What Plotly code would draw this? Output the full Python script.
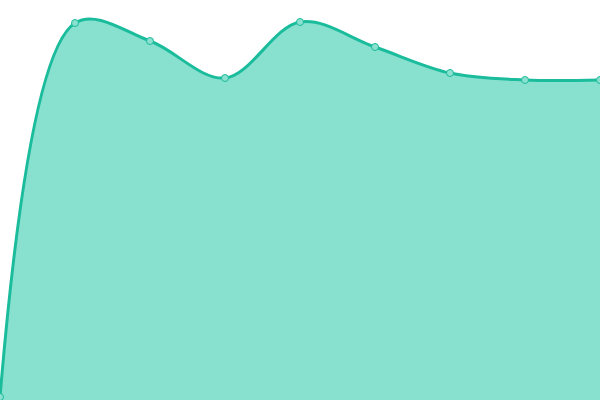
import plotly.graph_objects as go

# x positions and values (no axes shown in reference)
x_vals = [0, 1, 2, 3, 4, 5, 6, 7, 8]
y_vals = [3, 377, 359, 322, 378, 353, 327, 320, 320]

fig = go.Figure()
fig.add_trace(go.Scatter(
    x=x_vals,
    y=y_vals,
    mode="lines+markers",
    line=dict(color="#1abc9c", width=3, shape="spline", smoothing=1),
    marker=dict(size=7, color="#8be0cf", line=dict(color="#1abc9c", width=1)),
    fill="tozeroy",
    fillcolor="#88e0cf",
    cliponaxis=False,
    hoverinfo="skip",
))

fig.update_xaxes(visible=False, range=[0, 8])
fig.update_yaxes(visible=False, range=[0, 400])
fig.update_layout(
    width=600,
    height=400,
    margin=dict(l=0, r=0, t=0, b=0),
    showlegend=False,
    plot_bgcolor="white",
    paper_bgcolor="white",
)

# drop the page's default body margin so the chart sits flush in the window
fig.write_html(
    "out.html",
    config={"displayModeBar": False},
    post_script="document.body.style.margin='0';",
)
